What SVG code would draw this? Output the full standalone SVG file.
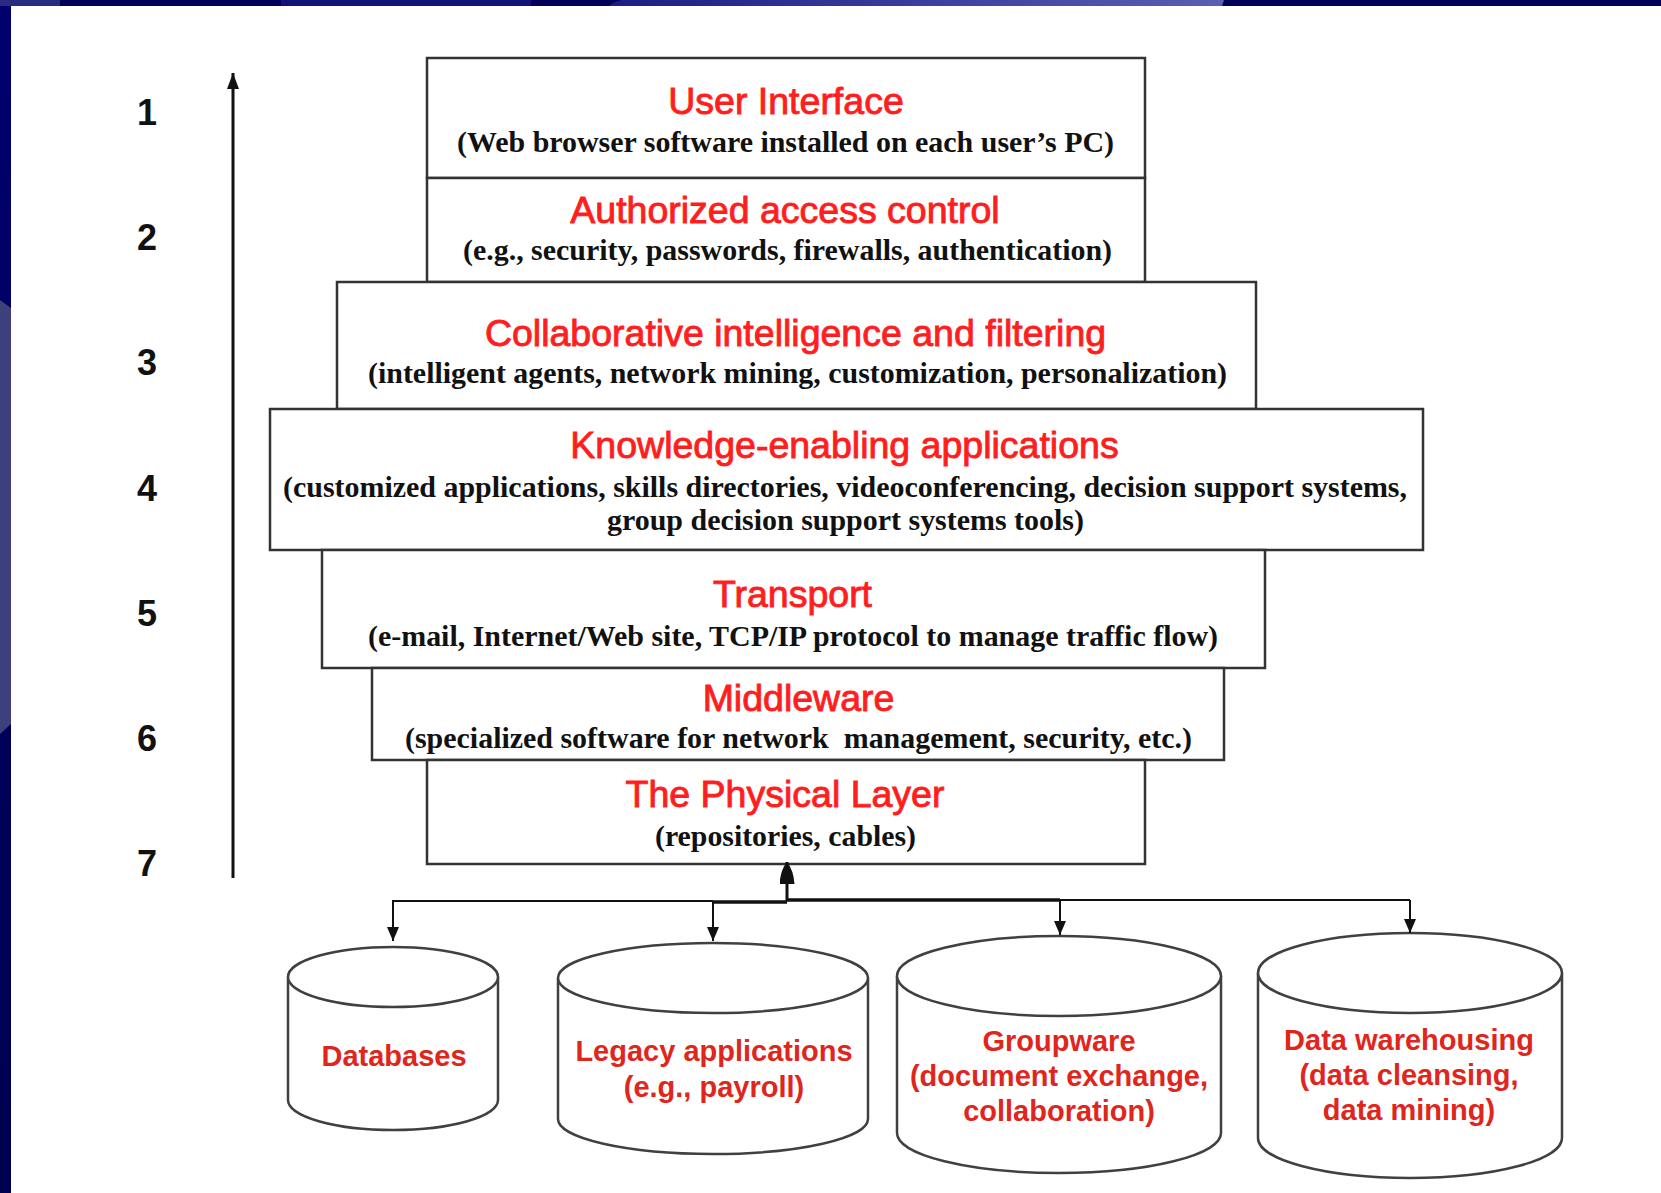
<svg xmlns="http://www.w3.org/2000/svg" width="1661" height="1193" viewBox="0 0 1661 1193">
  <defs>
    <linearGradient id="bandGlow" x1="0" y1="0" x2="1" y2="0">
      <stop offset="0" stop-color="#1c1c86"/>
      <stop offset="1" stop-color="#5a5fb2"/>
    </linearGradient>
    <linearGradient id="sideShade" x1="0" y1="0" x2="0" y2="1">
      <stop offset="0" stop-color="#00006e"/>
      <stop offset="1" stop-color="#000050"/>
    </linearGradient>
    <marker id="arrowSmall" viewBox="0 0 14 12" refX="14" refY="6" markerWidth="14" markerHeight="12" orient="auto" markerUnits="userSpaceOnUse">
      <path d="M0,0 L14,6 L0,12 Z" fill="#111"/>
    </marker>
    <marker id="arrowAxis" viewBox="0 0 16 12" refX="16" refY="6" markerWidth="16" markerHeight="12" orient="auto" markerUnits="userSpaceOnUse">
      <path d="M0,0 L16,6 L0,12 Z" fill="#111"/>
    </marker>
    <marker id="arrowBullet" viewBox="0 0 22 15" refX="22" refY="7.5" markerWidth="22" markerHeight="15" orient="auto" markerUnits="userSpaceOnUse">
      <path d="M0,0 Q14,1 22,7.5 Q14,14 0,15 Z" fill="#111"/>
    </marker>
    <style>
      .layer { fill: #ffffff; stroke: #333333; stroke-width: 2.5; }
      .title { font-family: "Liberation Sans", Arial, sans-serif; font-size: 37.5px; fill: #ff1e1e; stroke: #ff1e1e; stroke-width: 0.9; text-anchor: middle; }
      .sub { font-family: "Liberation Serif", "Times New Roman", serif; font-weight: bold; font-size: 30px; fill: #111111; text-anchor: middle; }
      .num { font-family: "Liberation Sans", Arial, sans-serif; font-weight: bold; font-size: 36px; fill: #111111; text-anchor: middle; }
      .drum { fill: #ffffff; stroke: #404040; stroke-width: 2.5; }
      .drumLabel { font-family: "Liberation Sans", Arial, sans-serif; font-weight: bold; font-size: 29px; fill: #e0261c; text-anchor: middle; }
      .wire { fill: none; stroke: #111111; stroke-width: 2; }
      .wireBold { fill: none; stroke: #111111; stroke-width: 3.5; }
    </style>
  </defs>

  <!-- page and slide frame -->
  <rect x="0" y="0" width="1661" height="1193" fill="#ffffff"/>
  <rect x="0" y="0" width="11" height="1193" fill="url(#sideShade)"/>
  <path d="M0,300 L11,308 L11,724 L0,734 Z" fill="#3e407c"/>
  <rect x="0" y="0" width="1661" height="6" fill="#000058"/>
  <rect x="281" y="0" width="250" height="6" fill="#12127a"/>
  <path d="M622,0 L1224,0 L1222,6 L609,6 Q612,2 622,0 Z" fill="url(#bandGlow)"/>
  <rect x="0" y="0" width="60" height="6" fill="#2a2c80"/>

  <!-- vertical layer axis -->
  <g id="axis">
    <text class="num" x="147" y="125">1</text>
    <text class="num" x="147" y="250">2</text>
    <text class="num" x="147" y="375">3</text>
    <text class="num" x="147" y="501">4</text>
    <text class="num" x="147" y="626">5</text>
    <text class="num" x="147" y="751">6</text>
    <text class="num" x="147" y="876">7</text>
  </g>

  <!-- stacked layers -->
  <g id="layer-user-interface">
    <rect class="layer" x="427" y="58" width="718" height="120"/>
    <text class="title" x="786" y="114">User Interface</text>
    <text class="sub" x="785.5" y="152" textLength="657" lengthAdjust="spacingAndGlyphs">(Web browser software installed on each user’s PC)</text>
  </g>
  <g id="layer-access-control">
    <rect class="layer" x="427" y="178" width="718" height="104"/>
    <text class="title" x="785" y="223">Authorized access control</text>
    <text class="sub" x="787.5" y="260" textLength="649" lengthAdjust="spacingAndGlyphs">(e.g., security, passwords, firewalls, authentication)</text>
  </g>
  <g id="layer-collaborative">
    <rect class="layer" x="337" y="282" width="919" height="127"/>
    <text class="title" x="795.5" y="346">Collaborative intelligence and filtering</text>
    <text class="sub" x="797.5" y="383" textLength="859" lengthAdjust="spacingAndGlyphs">(intelligent agents, network mining, customization, personalization)</text>
  </g>
  <g id="layer-knowledge">
    <rect class="layer" x="270" y="409" width="1153" height="141"/>
    <text class="title" x="844.5" y="458">Knowledge-enabling applications</text>
    <text class="sub" x="845" y="497" textLength="1124" lengthAdjust="spacingAndGlyphs">(customized applications, skills directories, videoconferencing, decision support systems,</text>
    <text class="sub" x="845.5" y="530" textLength="477" lengthAdjust="spacingAndGlyphs">group decision support systems tools)</text>
  </g>
  <g id="layer-transport">
    <rect class="layer" x="322" y="550" width="943" height="118"/>
    <text class="title" x="792.5" y="607">Transport</text>
    <text class="sub" x="793" y="646" textLength="850" lengthAdjust="spacingAndGlyphs">(e-mail, Internet/Web site, TCP/IP protocol to manage traffic flow)</text>
  </g>
  <g id="layer-middleware">
    <rect class="layer" x="372" y="668" width="852" height="92"/>
    <text class="title" x="798.5" y="711">Middleware</text>
    <text class="sub" x="798.5" y="748" textLength="787" lengthAdjust="spacingAndGlyphs" xml:space="preserve">(specialized software for network  management, security, etc.)</text>
  </g>
  <g id="layer-physical">
    <rect class="layer" x="427" y="760" width="718" height="104"/>
    <text class="title" x="785" y="807">The Physical Layer</text>
    <text class="sub" x="785.5" y="846" textLength="261" lengthAdjust="spacingAndGlyphs">(repositories, cables)</text>
  </g>

  <!-- repositories -->
  <g id="store-databases">
    <path class="drum" d="M288,977 L288,1100 A105,30 0 0 0 498,1100 L498,977"/>
    <ellipse class="drum" cx="393" cy="977" rx="105" ry="30"/>
    <text class="drumLabel" x="394" y="1066">Databases</text>
  </g>
  <g id="store-legacy">
    <path class="drum" d="M558,978 L558,1119 A155,35 0 0 0 868,1119 L868,978"/>
    <ellipse class="drum" cx="713" cy="978" rx="155" ry="35"/>
    <text class="drumLabel" x="714" y="1061">Legacy applications</text>
    <text class="drumLabel" x="714" y="1097">(e.g., payroll)</text>
  </g>
  <g id="store-groupware">
    <path class="drum" d="M897,976 L897,1133 A162,40 0 0 0 1221,1133 L1221,976"/>
    <ellipse class="drum" cx="1059" cy="976" rx="162" ry="40"/>
    <text class="drumLabel" x="1059" y="1051">Groupware</text>
    <text class="drumLabel" x="1059" y="1086">(document exchange,</text>
    <text class="drumLabel" x="1059" y="1121">collaboration)</text>
  </g>
  <g id="store-warehouse">
    <path class="drum" d="M1258,973 L1258,1138 A152,40 0 0 0 1562,1138 L1562,973"/>
    <ellipse class="drum" cx="1410" cy="973" rx="152" ry="40"/>
    <text class="drumLabel" x="1409" y="1050">Data warehousing</text>
    <text class="drumLabel" x="1409" y="1085">(data cleansing,</text>
    <text class="drumLabel" x="1409" y="1120">data mining)</text>
  </g>

  <!-- connectors -->
  <g id="connectors">
    <line class="wireBold" x1="233" y1="878" x2="233" y2="73" marker-end="url(#arrowAxis)" style="stroke-width:3"/>
    <polyline class="wire" points="393,901 713,901"/>
    <polyline class="wireBold" points="713,902 787,902"/>
    <polyline class="wireBold" points="787,900 1060,900"/>
    <polyline class="wire" points="1060,900 1410,900"/>
    <line class="wireBold" x1="787" y1="901" x2="787" y2="862" marker-end="url(#arrowBullet)" style="stroke-width:3"/>
    <line class="wire" x1="393" y1="900" x2="393" y2="941" marker-end="url(#arrowSmall)"/>
    <line class="wire" x1="713" y1="901" x2="713" y2="941" marker-end="url(#arrowSmall)"/>
    <line class="wire" x1="1060" y1="900" x2="1060" y2="935" marker-end="url(#arrowSmall)"/>
    <line class="wire" x1="1410" y1="900" x2="1410" y2="933" marker-end="url(#arrowSmall)"/>
  </g>
</svg>
